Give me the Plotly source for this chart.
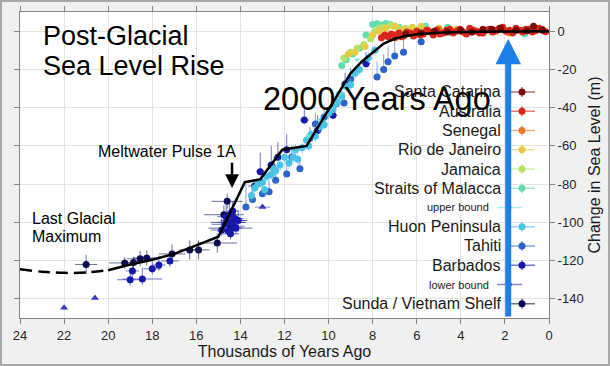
import plotly.graph_objects as go

# ---------------- data ----------------
year_ticks = [24, 22, 20, 18, 16, 14, 12, 10, 8, 6, 4, 2, 0]
level_ticks = [0, -20, -40, -60, -80, -100, -120, -140]
level_tick_labels = ["0", "-20", "-40", "-60", "-80", "-100", "-120", "-140"]

curve_dashed_t = [24, 23, 22, 21, 20]
curve_dashed_v = [-124.5, -125.8, -126.4, -126.2, -125.0]
curve_t = [20, 19, 18, 17, 16, 15, 13.8, 13.1, 12.1, 11, 10, 9, 8.5, 8, 7.5, 7, 6.5, 6, 5, 4, 3, 2, 1, 0]
curve_v = [-125, -122, -119.5, -116.5, -112, -107.5, -79, -77.5, -62, -60, -41, -22, -16, -11, -6.5,
           -4, -2.5, -1.6, -0.8, -0.5, -0.3, -0.2, -0.1, 0]

sunda_t = [21.0, 19.25, 18.85, 18.55, 18.25, 17.1, 16.3, 15.9, 15.05, 14.75, 14.6, 14.55, 14.45, 14.3, 13.35]
sunda_v = [-122.0, -121.2, -121.0, -119.0, -118.6, -116.5, -114.4, -114.4, -110.8, -96.0, -89.0, -100.0,
           -103.0, -99.0, -81.0]
sunda_dt = [0.5, 0.7, 0.5, 0.6, 0.6, 0.6, 0.5, 0.5, 0.9, 0.9, 0.7, 0.8, 1.0, 0.6, 0.3]
sunda_dv = [5, 3, 3, 4, 4, 5, 5, 5, 5, 5, 4, 5, 5, 4, 3]

barbados_t = [19.0, 18.9, 18.45, 18.0, 17.7, 17.2, 14.85, 14.7, 14.65, 14.55, 14.5, 14.45, 14.4, 14.35,
              14.3, 14.25, 14.2, 14.1, 13.1, 12.6, 12.3, 11.9, 11.1, 10.5, 9.8, 9.25, 8.3]
barbados_v = [-130.0, -125.4, -129.6, -124.3, -122.3, -120.2, -104.0, -101.0, -97.0, -104.5, -96.0, -106.0,
              -100.0, -94.0, -102.0, -98.0, -103.0, -99.0, -73.5, -70.0, -66.0, -62.0, -46.5, -52.0, -44.0,
              -27.7, -17.0]
barbados_dt = [0.6, 0.3, 0.9, 0.4, 0.3, 0.4, 0.5, 0.6, 0.4, 0.5, 0.3, 0.4, 0.6, 0.3, 0.5, 0.4, 0.3, 0.3,
               0.2, 0.2, 0.2, 0.2, 0.2, 0.2, 0.2, 0.2, 0.2]
barbados_up = [6, 5, 6, 5, 5, 5, 6, 5, 6, 5, 6, 5, 6, 5, 6, 5, 5, 5, 10, 10, 8, 8, 6, 8, 8, 6, 6]
barbados_dn = [3, 3, 3, 3, 3, 3, 3, 3, 3, 3, 3, 3, 3, 3, 3, 3, 3, 3, 2, 2, 2, 2, 2, 2, 2, 2, 2]

tahiti_t = [13.75, 13.45, 13.0, 12.7, 12.4, 11.9, 11.67, 11.3, 10.85, 10.6, 10.2, 9.65, 9.3, 9.0, 7.8,
            7.5, 7.3, 7.0, 6.6, 5.8]
tahiti_v = [-92.0, -88.0, -85.0, -84.0, -78.0, -74.7, -65.8, -72.0, -56.0, -48.6, -45.0, -38.0, -37.6,
            -25.0, -24.0, -20.0, -16.0, -13.0, -11.0, -5.5]
tahiti_up = [12, 8, 8, 6, 8, 6, 6, 6, 6, 6, 6, 6, 6, 6, 8, 8, 8, 8, 8, 3]
tahiti_dn = [1.5, 1.5, 1.5, 1.5, 1.5, 1.5, 1.5, 1.5, 1.5, 1.5, 1.5, 1.5, 1.5, 1.5, 1.5, 1.5, 1.5, 1.5, 1.5, 1.5]

huon_t = [13.5, 13.35, 13.2, 13.0, 12.9, 12.8, 12.6, 12.5, 12.4, 12.2, 12.0, 11.8, 11.6, 11.5, 11.4,
          11.2, 11.0, 10.9, 10.8, 10.6, 10.4, 10.3, 10.2, 10.0, 9.8, 9.7, 9.6, 9.5, 9.4, 9.2, 9.0, 8.8,
          8.6, 8.2, 7.9]
huon_v = [-86, -82, -80, -79, -83, -76, -75, -72, -73, -70, -66, -69, -66, -62, -67, -61, -57, -60, -54,
          -55, -50, -47, -49, -43, -41, -38, -37, -33, -34, -29, -28, -22, -20, -14, -10]

upper_bound_t = [10.9, 10.4, 9.9, 9.5, 8.7]
upper_bound_v = [-55.0, -47.0, -40.0, -33.0, -15.0]

lower_bound_t = [22.0, 20.6, 13.0]
lower_bound_v = [-144.7, -139.5, -92.0]
lower_bound_dt = [0.0, 0.0, 0.35]

malacca_t = [9.4, 9.2, 8.9, 8.6, 8.3, 8.0, 7.8, 7.6, 7.4, 7.2, 7.0, 6.8, 5.6, 5.0, 4.6, 1.1]
malacca_v = [-18.0, -15.0, -12.0, -9.0, -2.0, 3.5, 3.8, 3.2, 4.0, 3.5, 2.5, 2.0, 2.5, 1.5, 2.0, -1.5]

jamaica_t = [9.3, 9.0, 8.7, 8.4, 8.1, 7.9, 7.7, 7.5, 7.2, 6.9, 6.5, 6.0, 5.5]
jamaica_v = [-14.0, -11.0, -9.0, -7.0, -4.0, 0.0, 1.5, 2.0, 3.0, 2.0, 1.5, 1.0, 0.5]

rio_t = [9.1, 8.8, 8.35, 8.0, 7.7, 7.4, 7.0, 6.6, 6.2, 5.8, 5.0, 4.2, 3.4, 2.6, 1.8]
rio_v = [-12.0, -11.0, -8.0, -2.0, 0.0, 1.5, 2.5, 1.0, 2.0, 2.5, 1.5, 1.0, 0.5, -0.5, -1.0]

senegal_t = [7.0, 6.5, 6.0, 5.5, 5.0, 4.5, 4.0, 3.5, 3.0, 2.4, 1.8, 1.2, 0.6]
senegal_v = [-2.0, -1.5, -0.5, 0.5, 1.0, 0.5, 0.0, -0.5, 1.0, 0.0, -0.8, 0.5, 0.2]

australia_t = [7.6, 7.45, 7.3, 7.15, 7.0, 6.9, 6.8, 6.7, 6.6, 6.45, 6.3, 6.15, 6.0, 5.85, 5.7, 5.55, 5.4,
               5.25, 5.1, 4.95, 4.8, 4.65, 4.5, 4.35, 4.2, 4.05, 3.9, 3.75, 3.6, 3.45, 3.3, 3.15, 3.0,
               2.85, 2.7, 2.55, 2.4, 2.25, 2.1, 1.95, 1.8, 1.65, 1.5, 1.35, 1.2, 1.05, 0.9, 0.75, 0.6,
               0.45, 0.3, 0.15]
australia_v = [-3.5, -2.0, -3.0, -1.5, -3.5, -2.0, -1.0, -3.0, -2.5, -0.5, -1.0, -2.5, 0.0, -2.0, -1.5,
               0.5, -0.5, -2.0, 0.5, -1.5, -1.0, 0.5, 1.0, -1.0, 0.0, 1.0, -0.5, -1.5, 1.5, 0.5, 0.0, -1.0,
               -1.0, 0.5, 1.0, -0.5, 0.5, 1.5, 2.0, 0.0, 0.5, -1.0, 1.5, 0.5, -0.5, 1.0, 1.0, -0.5, 0.5,
               1.5, 0.8, -0.3]

santa_catarina_t = [6.5, 5.8, 5.2, 4.6, 4.0, 3.5, 3.0, 2.6, 2.2, 1.5, 1.0, 0.7, 0.3]
santa_catarina_v = [-1.5, -1.0, 0.0, -0.5, 0.5, -0.5, 0.8, 1.0, 1.5, 0.5, 0.2, 2.5, 0.4]

legend_names = ["Santa Catarina", "Australia", "Senegal", "Rio de Janeiro", "Jamaica",
                "Straits of Malacca", "upper bound", "Huon Peninsula", "Tahiti", "Barbados",
                "lower bound", "Sunda / Vietnam Shelf"]

# ---------------- style ----------------
COL = {
    "Santa Catarina": "#7a0c0c", "Australia": "#d8261e", "Senegal": "#ec7a2c",
    "Rio de Janeiro": "#e6cc46", "Jamaica": "#b2e26a", "Straits of Malacca": "#64dcae",
    "upper bound": "#7fe0dc", "Huon Peninsula": "#4cc2e4", "Tahiti": "#2e64c8",
    "Barbados": "#1818a8", "lower bound": "#3a3ab8", "Sunda / Vietnam Shelf": "#0c0c4e",
}


def rgba(hexc, a):
    h = hexc.lstrip("#")
    return "rgba(%d,%d,%d,%.2f)" % (int(h[0:2], 16), int(h[2:4], 16), int(h[4:6], 16), a)


FONT = "Liberation Sans, Arial, Helvetica, sans-serif"
fig = go.Figure()


def add_series(name, t, v, dt=None, up=None, dn=None, symbol="circle", size=7):
    c = COL[name]
    ex = dict(type="data", array=dt, symmetric=True, color=rgba(c, 0.6), thickness=1, width=0,
              visible=dt is not None)
    ey = dict(type="data", array=up, arrayminus=dn if dn is not None else up, symmetric=dn is None,
              color=rgba(c, 0.6), thickness=1, width=0, visible=up is not None)
    fig.add_trace(go.Scatter(x=t, y=v, mode="markers", name=name, showlegend=False,
                             marker=dict(color=c, size=size, symbol=symbol, line=dict(width=0)),
                             error_x=ex, error_y=ey))


hol_dt = 0.15
add_series("lower bound", lower_bound_t, lower_bound_v, dt=lower_bound_dt, symbol="triangle-up", size=7)
add_series("Sunda / Vietnam Shelf", sunda_t, sunda_v, dt=sunda_dt, up=sunda_dv)
add_series("Barbados", barbados_t, barbados_v, dt=barbados_dt, up=barbados_up, dn=barbados_dn)
add_series("Tahiti", tahiti_t, tahiti_v, dt=[0.15] * len(tahiti_t), up=tahiti_up, dn=tahiti_dn)
add_series("Huon Peninsula", huon_t, huon_v, dt=[0.15] * len(huon_t), up=[3] * len(huon_t))
add_series("upper bound", upper_bound_t, upper_bound_v, symbol="triangle-down", size=5)
add_series("Straits of Malacca", malacca_t, malacca_v, dt=[hol_dt] * len(malacca_t), up=[1.5] * len(malacca_t))
add_series("Jamaica", jamaica_t, jamaica_v, dt=[hol_dt] * len(jamaica_t), up=[1.5] * len(jamaica_t))
add_series("Rio de Janeiro", rio_t, rio_v, dt=[hol_dt] * len(rio_t), up=[1.5] * len(rio_t))
add_series("Senegal", senegal_t, senegal_v, dt=[hol_dt] * len(senegal_t), up=[1.5] * len(senegal_t))
add_series("Australia", australia_t, australia_v, dt=[hol_dt] * len(australia_t), up=[1.5] * len(australia_t))
add_series("Santa Catarina", santa_catarina_t, santa_catarina_v, dt=[hol_dt] * len(santa_catarina_t),
           up=[1.5] * len(santa_catarina_t))

fig.add_trace(go.Scatter(x=curve_dashed_t, y=curve_dashed_v, mode="lines", showlegend=False,
                         line=dict(color="black", width=2.5, dash="12px,6px", shape="spline")))
fig.add_trace(go.Scatter(x=curve_t, y=curve_v, mode="lines", showlegend=False,
                         line=dict(color="black", width=2.5)))

# ---------------- layout ----------------
W, H = 610, 366
ML, MR, MT, MB = 20, 61, 12, 48
PW, PH = W - ML - MR, H - MT - MB


def px(xp):
    return (xp - ML) / PW


def py(yp):
    return (H - MB - yp) / PH


annotations = [
    dict(text="Post-Glacial", x=px(41), y=py(36), xanchor="left", yanchor="middle", font=dict(size=27)),
    dict(text="Sea Level Rise", x=px(41), y=py(66), xanchor="left", yanchor="middle", font=dict(size=27)),
    dict(text="2000 Years Ago", x=px(261), y=py(99), xanchor="left", yanchor="middle", font=dict(size=32.5)),
    dict(text="Meltwater Pulse 1A", x=px(167), y=py(151), xanchor="center", yanchor="middle", font=dict(size=16)),
    dict(text="Last Glacial", x=px(30), y=py(218), xanchor="left", yanchor="middle", font=dict(size=16)),
    dict(text="Maximum", x=px(30), y=py(236), xanchor="left", yanchor="middle", font=dict(size=16)),
]
for a in annotations:
    a.update(xref="paper", yref="paper", showarrow=False)
    a["font"].update(family=FONT, color="black")

# arrows
annotations.append(dict(x=1.85, y=-4, ax=1.85, ay=-150, xref="x", yref="y", axref="x", ayref="y",
                        text="", showarrow=True, arrowhead=2, arrowsize=0.85, arrowwidth=6,
                        arrowcolor="#1f7fe8"))
annotations.append(dict(x=14.38, y=-82, ax=14.38, ay=-68, xref="x", yref="y", axref="x", ayref="y",
                        text="", showarrow=True, arrowhead=2, arrowsize=1.1, arrowwidth=2.5,
                        arrowcolor="black"))

shapes = []
# custom legend: text on the left, symbol on the right
row0, step = 92, 19.25
for i, name in enumerate(legend_names):
    yp = row0 + i * step
    c = COL[name]
    small = "bound" in name
    if small:
        tx, x0, x1, xm, ms, fs = 491, 497, 522, 510, 2, 11
    else:
        tx, x0, x1, xm, ms, fs = 503, 510, 535, 522, 3.5, 16
    annotations.append(dict(text=name, x=px(tx), y=py(yp), xref="paper", yref="paper", showarrow=False,
                            xanchor="right", yanchor="middle", font=dict(family=FONT, size=fs, color="#1a1a1a")))
    shapes.append(dict(type="line", xref="paper", yref="paper", x0=px(x0), x1=px(x1), y0=py(yp), y1=py(yp),
                       line=dict(color=rgba(c, 0.6), width=1.5)))
    if not small:
        shapes.append(dict(type="line", xref="paper", yref="paper", x0=px(xm), x1=px(xm), y0=py(yp - 5),
                           y1=py(yp + 5), line=dict(color=rgba(c, 0.6), width=1.5)))
    shapes.append(dict(type="circle", xref="paper", yref="paper", x0=px(xm - ms), x1=px(xm + ms),
                       y0=py(yp + ms), y1=py(yp - ms), fillcolor=c, line=dict(width=0)))

# figure border
shapes.append(dict(type="rect", xref="paper", yref="paper", x0=px(1), x1=px(W - 1), y0=py(H - 1), y1=py(1),
                   line=dict(color="#a8a8a8", width=2), layer="below"))

axis_common = dict(showgrid=True, gridcolor="#e4e4e4", gridwidth=1, showline=True, linecolor="#858585",
                   linewidth=1, mirror="ticks", ticks="outside", ticklen=5, tickcolor="#858585",
                   tickfont=dict(family=FONT, size=13, color="#262626"), zeroline=False)

fig.update_layout(
    width=W, height=H,
    margin=dict(l=ML, r=MR, t=MT, b=MB, autoexpand=False),
    paper_bgcolor="#f0f0f0", plot_bgcolor="white",
    font=dict(family=FONT),
    showlegend=False,
    annotations=annotations, shapes=shapes,
    xaxis=dict(range=[24, 0], tickmode="array", tickvals=year_ticks,
               title=dict(text="Thousands of Years Ago", font=dict(family=FONT, size=16, color="#1a1a1a"),
                          standoff=4),
               automargin=False, **axis_common),
    yaxis=dict(range=[-150, 10], side="right", tickmode="array", tickvals=level_ticks,
               ticktext=level_tick_labels,
               title=dict(text="Change in Sea Level (m)", font=dict(family=FONT, size=16, color="#1a1a1a"),
                          standoff=6),
               automargin=False, **axis_common),
)

fig.write_html("out.html", config={"displayModeBar": False},
               post_script="document.body.style.margin='0px';")
